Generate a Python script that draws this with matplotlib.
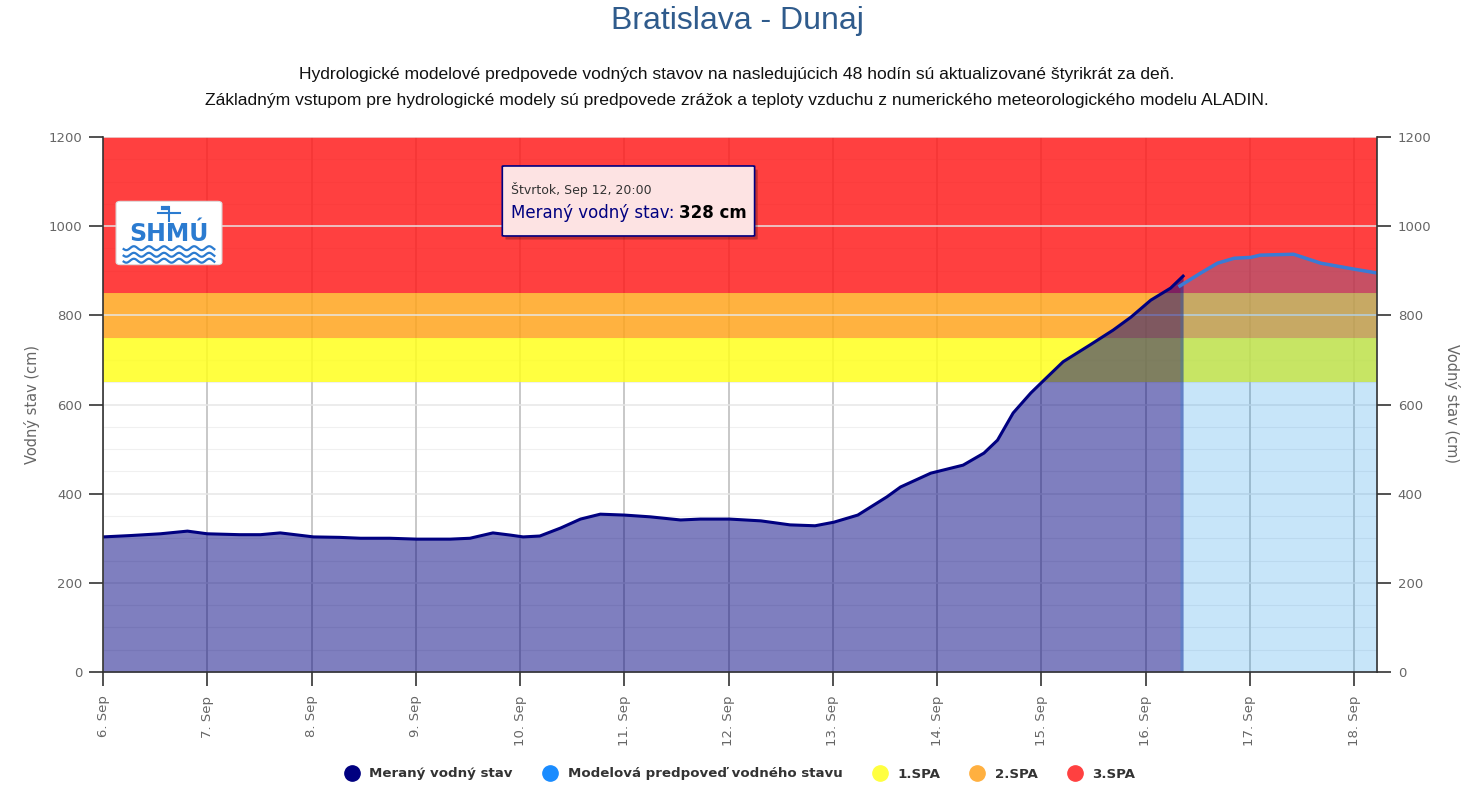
import numpy as np
import matplotlib
matplotlib.use("Agg")
import matplotlib.pyplot as plt
from matplotlib.patches import FancyBboxPatch
from matplotlib.lines import Line2D

# days since 6 Sep 00:00
measured_day = [0.00, 0.26, 0.55, 0.81, 1.00, 1.31, 1.51, 1.70, 2.02, 2.27,
                2.47, 2.75, 3.01, 3.33, 3.52, 3.74, 3.91, 4.03, 4.19, 4.39,
                4.58, 4.77, 5.00, 5.25, 5.54, 5.73, 6.01, 6.31, 6.59, 6.83,
                7.01, 7.24, 7.52, 7.65, 7.94, 8.25, 8.45, 8.58, 8.73, 8.90,
                9.01, 9.21, 9.47, 9.69, 9.86, 10.05, 10.24, 10.36]
measured_cm = [303, 306, 310, 316, 310, 308, 308, 312, 303, 302,
               300, 300, 298, 298, 300, 312, 307, 303, 305, 323,
               343, 354, 352, 348, 341, 343, 343, 339, 330, 328,
               336, 352, 393, 415, 446, 464, 491, 520, 581, 626,
               651, 696, 734, 767, 796, 834, 861, 888]

forecast_day = [10.33, 10.53, 10.69, 10.85, 11.01, 11.10, 11.42, 11.68, 11.99, 12.22]
forecast_cm = [866, 895, 917, 928, 930, 935, 937, 917, 904, 895]

day_labels = ["6. Sep", "7. Sep", "8. Sep", "9. Sep", "10. Sep", "11. Sep", "12. Sep",
              "13. Sep", "14. Sep", "15. Sep", "16. Sep", "17. Sep", "18. Sep"]

spa_names = ["1.SPA", "2.SPA", "3.SPA"]
spa_low = [650, 750, 850]
spa_high = [750, 850, 1200]
spa_colors = ["#ffff1e", "#ffa51e", "#ff1e1e"]
spa_legend = ["#ffff40", "#ffb040", "#ff4040"]

NAVY = "#000080"
FC_LINE = "#3a7bd5"
FC_FILL = "#008be8"
GRAY = "#666666"

fig = plt.figure(figsize=(14.74, 7.96), dpi=100)
ax = fig.add_axes([103 / 1474, 1 - 672 / 796, 1274 / 1474, 535 / 796])

x_end = 12.22
ax.set_xlim(0, x_end)
ax.set_ylim(0, 1200)

# vertical day grid + minor horizontal grid (under the bands)
for i in range(len(day_labels)):
    ax.axvline(i, color="#c8c8c8", lw=1.4, zorder=0.5)
for v in np.arange(50, 1200, 50):
    if v % 200 != 0:
        ax.axhline(v, color="#f0f0f0", lw=0.8, zorder=0.4)

# alert bands
for lo, hi, c in zip(spa_low, spa_high, spa_colors):
    ax.axhspan(lo, hi, color=c, alpha=0.85, lw=0, zorder=1)

# major horizontal grid
ax.set_yticks(np.arange(0, 1201, 200))
for v in np.arange(200, 1201, 200):
    ax.axhline(v, color="#e6e6e6", lw=1.2, alpha=0.9, zorder=1.5)

# measured
ax.fill_between(measured_day, measured_cm, 0, color=NAVY, alpha=0.5, lw=0, zorder=2)
ax.plot(measured_day, measured_cm, color=NAVY, lw=2.2, zorder=4)

# forecast
ax.fill_between(forecast_day, forecast_cm, 0, color=FC_FILL, alpha=0.22, lw=0, zorder=2)
ax.plot(forecast_day, forecast_cm, color=FC_LINE, lw=2.5, zorder=3)

# axes styling
ax.set_xticks(range(len(day_labels)))
ax.set_xticklabels(day_labels, rotation=90, ha="center", va="top")
ax.tick_params(axis="x", length=10, width=1.2, color="#333333", pad=7,
               labelsize=9.5, labelcolor=GRAY)
ax.tick_params(axis="y", which="major", length=10, width=1.2, color="#333333", pad=5,
               labelsize=9.5, labelcolor=GRAY, right=True, labelright=True)
ax.spines["top"].set_visible(False)
for s in ["left", "bottom", "right"]:
    ax.spines[s].set_color("#333333")
    ax.spines[s].set_linewidth(1.2)
    ax.spines[s].set_zorder(6)

fig.text(32 / 1474, 1 - 404 / 796, "Vodný stav (cm)", rotation=90, color=GRAY,
         fontsize=10.5, ha="center", va="center")
fig.text(1452 / 1474, 1 - 404 / 796, "Vodný stav (cm)", rotation=270, color=GRAY,
         fontsize=10.5, ha="center", va="center")

# titles
fig.text(0.5, 1 - 21 / 796, "Bratislava - Dunaj", ha="center", va="center",
         fontsize=23, color="#2f5b8c", family="Liberation Sans")
fig.text(0.5, 1 - 74 / 796,
         "Hydrologické modelové predpovede vodných stavov na nasledujúcich 48 hodín sú aktualizované štyrikrát za deň.",
         ha="center", va="center", fontsize=12.6, color="#111111", family="Liberation Sans")
fig.text(0.5, 1 - 100 / 796,
         "Základným vstupom pre hydrologické modely sú predpovede zrážok a teploty vzduchu z numerického meteorologického modelu ALADIN.",
         ha="center", va="center", fontsize=12.6, color="#111111", family="Liberation Sans")

# tooltip
tx0, tx1 = 3.83, 6.25
ty0, ty1 = 978, 1135
ax.add_patch(FancyBboxPatch((tx0 + 0.03, ty0 - 8), tx1 - tx0, ty1 - ty0,
                            boxstyle="round,pad=0,rounding_size=0.02",
                            fc="#000000", alpha=0.25, lw=0, zorder=7, mutation_aspect=40))
ax.add_patch(FancyBboxPatch((tx0, ty0), tx1 - tx0, ty1 - ty0,
                            boxstyle="round,pad=0,rounding_size=0.02",
                            fc="#fde3e3", ec=NAVY, lw=1.2, zorder=8, mutation_aspect=40))
ax.text(tx0 + 0.08, 1083, "Štvrtok, Sep 12, 20:00", fontsize=9, color="#333333",
        va="center", zorder=9)
t1 = ax.text(tx0 + 0.08, 1030, "Meraný vodný stav: ", fontsize=12, color=NAVY,
             va="center", zorder=9)
ax.annotate("328 cm", xy=(1, 0), xycoords=t1, va="bottom", ha="left",
            fontsize=12, fontweight="bold", color="#000000", zorder=9)

# logo
lax = fig.add_axes([115 / 1474, 1 - 266 / 796, 108 / 1474, 66 / 796])
lax.set_xlim(0, 1)
lax.set_ylim(0, 1)
lax.axis("off")
lax.add_patch(FancyBboxPatch((0.01, 0.02), 0.98, 0.96, boxstyle="round,pad=0,rounding_size=0.04",
                             fc="white", ec="#dddddd", lw=0.8))
lax.text(0.5, 0.48, "SHMÚ", ha="center", va="center", fontsize=17, fontweight="bold",
         color="#2b7bd0", family="DejaVu Sans")
lax.plot([0.5, 0.5], [0.68, 0.9], color="#2b7bd0", lw=1.5)
lax.plot([0.4, 0.6], [0.8, 0.8], color="#2b7bd0", lw=1.5)
lax.plot([0.44, 0.48], [0.88, 0.88], color="#2b7bd0", lw=3)
wx = np.linspace(0.08, 0.92, 80)
for wy in [0.27, 0.17, 0.08]:
    lax.plot(wx, wy + 0.03 * np.sin(wx * 45), color="#2b7bd0", lw=1.6)

# legend
handles = [Line2D([], [], marker="o", ls="", ms=11, color=NAVY),
           Line2D([], [], marker="o", ls="", ms=11, color="#1a8cff")]
handles += [Line2D([], [], marker="o", ls="", ms=11, color=c) for c in spa_legend]
labels = ["Meraný vodný stav", "Modelová predpoveď vodného stavu"] + spa_names
leg = fig.legend(handles, labels, loc="center", bbox_to_anchor=(0.5, 1 - 774 / 796),
                 ncol=5, frameon=False, handletextpad=0.3, columnspacing=1.8,
                 prop={"size": 9.6, "weight": "bold"})
for t in leg.get_texts():
    t.set_color("#333333")

fig.savefig("out.png", dpi=100)
